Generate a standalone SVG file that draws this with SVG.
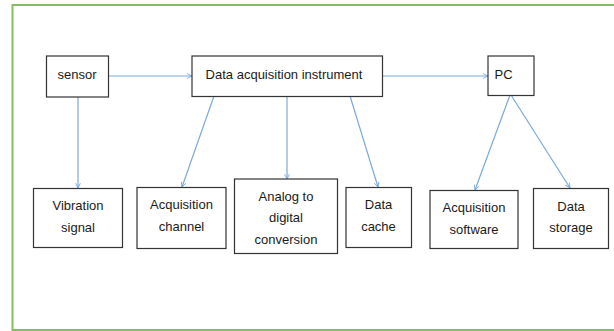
<svg xmlns="http://www.w3.org/2000/svg" width="614" height="331" viewBox="0 0 614 331">
  <style>
    .frame { fill: none; stroke: #86bd5e; stroke-width: 2; }
    .box { fill: #ffffff; stroke: #333333; stroke-width: 1.2; }
    .label { font-family: "Liberation Sans", Arial, sans-serif; font-size: 13px; fill: #1a1a1a; text-anchor: middle; }
    .link { fill: none; stroke: #7aa9dc; stroke-width: 1.2; marker-end: url(#tip); }
  </style>
  <defs>
    <marker id="tip" viewBox="0 0 10 10" refX="9" refY="5" markerWidth="6" markerHeight="6" markerUnits="userSpaceOnUse" orient="auto">
      <path d="M1,1 L9,5 L1,9" fill="none" stroke="#7aa9dc" stroke-width="1.5"/>
    </marker>
  </defs>

  <rect width="614" height="331" fill="#ffffff"/>
  <!-- outer frame, open to the right -->
  <rect class="frame" x="12.5" y="5" width="640" height="325"/>

  <g id="connectors">
    <line class="link" x1="109" y1="76" x2="192" y2="76"/>
    <line class="link" x1="383" y1="76" x2="488" y2="76"/>
    <line class="link" x1="78" y1="97" x2="78" y2="188"/>
    <line class="link" x1="214" y1="96" x2="182" y2="187"/>
    <line class="link" x1="287" y1="96" x2="287" y2="179"/>
    <line class="link" x1="350" y1="96" x2="378" y2="187"/>
    <line class="link" x1="510" y1="95" x2="475" y2="190"/>
    <line class="link" x1="511" y1="95" x2="570" y2="188"/>
  </g>

  <g id="sensor">
    <rect class="box" x="46.5" y="56" width="62" height="41"/>
    <text class="label" x="77" y="78.5">sensor</text>
  </g>
  <g id="daq">
    <rect class="box" x="192" y="56" width="190.5" height="40.5"/>
    <text class="label" x="284" y="78.5">Data acquisition instrument</text>
  </g>
  <g id="pc">
    <rect class="box" x="488" y="56" width="46" height="39.5"/>
    <text class="label" x="503.5" y="78.5">PC</text>
  </g>
  <g id="vibration">
    <rect class="box" x="33.5" y="188.5" width="89" height="59"/>
    <text class="label" x="78" y="209.5">Vibration</text>
    <text class="label" x="78" y="231.5">signal</text>
  </g>
  <g id="channel">
    <rect class="box" x="137" y="187.5" width="89" height="61"/>
    <text class="label" x="181.5" y="208.5">Acquisition</text>
    <text class="label" x="181.5" y="230.5">channel</text>
  </g>
  <g id="adc">
    <rect class="box" x="234.5" y="179" width="103" height="74.5"/>
    <text class="label" x="286" y="200.5">Analog to</text>
    <text class="label" x="286" y="222">digital</text>
    <text class="label" x="286" y="243.5">conversion</text>
  </g>
  <g id="cache">
    <rect class="box" x="346" y="187.5" width="65.5" height="60"/>
    <text class="label" x="378.5" y="208.5">Data</text>
    <text class="label" x="378.5" y="230.5">cache</text>
  </g>
  <g id="software">
    <rect class="box" x="430" y="190.5" width="88" height="58"/>
    <text class="label" x="474" y="211.5">Acquisition</text>
    <text class="label" x="474" y="233.5">software</text>
  </g>
  <g id="storage">
    <rect class="box" x="533.5" y="188.5" width="75" height="60"/>
    <text class="label" x="571" y="210.5">Data</text>
    <text class="label" x="571" y="231.5">storage</text>
  </g>
</svg>
